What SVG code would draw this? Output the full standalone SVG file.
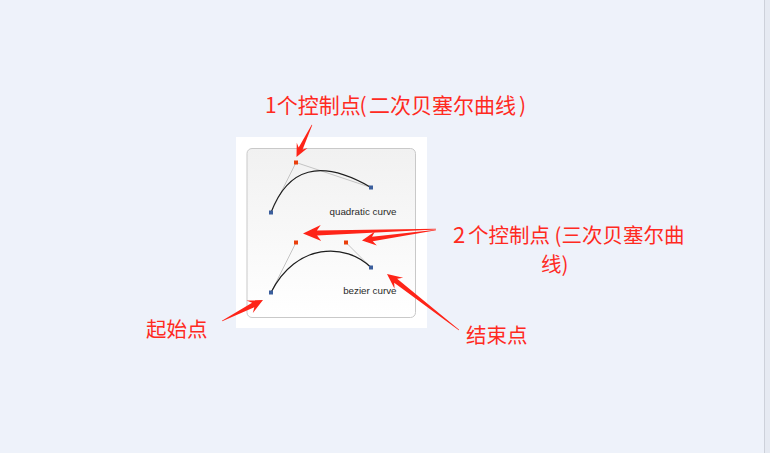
<svg xmlns="http://www.w3.org/2000/svg" width="770" height="453" viewBox="0 0 770 453">
<defs>
<linearGradient id="pg" x1="0" y1="0" x2="0" y2="1">
<stop offset="0" stop-color="#f1f1f1"/>
<stop offset="1" stop-color="#ffffff"/>
</linearGradient>
<style>
.lbl{font-family:"Noto Sans CJK SC","Noto Sans",sans-serif;fill:#ff2a1f;}
.cap{font-family:"Liberation Sans",Arial,sans-serif;font-size:9.8px;fill:#2a2a2a;text-anchor:end;}
.guide{stroke:#c4c4c4;stroke-width:1;fill:none;}
.curve{stroke:#1e1e1e;stroke-width:1.2;fill:none;}
.ep{fill:#3b5e9c;}
.cp{fill:#ea3f0c;}
.arr{fill:#fe2418;}
</style>
</defs>
<rect x="0" y="0" width="770" height="453" fill="#eef2fa"/>
<rect x="764" y="0" width="6" height="453" fill="#e6eaf2"/>
<line x1="764.5" y1="0" x2="764.5" y2="453" stroke="#cdd1da" stroke-width="1"/>

<g id="panel">
<rect x="236" y="137" width="191" height="191" fill="#ffffff"/>
<rect x="247" y="148.5" width="168.5" height="169" rx="5" fill="url(#pg)" stroke="#c9c9c9" stroke-width="1"/>
</g>

<g id="quadratic">
<polyline class="guide" points="271,212.5 296,162.5 371,187.5"/>
<path class="curve" d="M271,212.5 C288,168 320,158 371,187.5"/>
<rect class="ep" x="269" y="210.5" width="4" height="4"/>
<rect class="cp" x="294" y="160.5" width="4" height="4"/>
<rect class="ep" x="369" y="185.5" width="4" height="4"/>
<text class="cap" x="396.5" y="214.5">quadratic curve</text>
</g>

<g id="bezier">
<line class="guide" x1="271" y1="292.5" x2="296" y2="242.5"/>
<line class="guide" x1="346" y1="242.5" x2="371" y2="267.5"/>
<path class="curve" d="M271,292.5 C296,242.5 346,242.5 371,267.5"/>
<rect class="ep" x="269" y="290.5" width="4" height="4"/>
<rect class="cp" x="294" y="240.5" width="4" height="4"/>
<rect class="cp" x="344" y="240.5" width="4" height="4"/>
<rect class="ep" x="369" y="265.5" width="4" height="4"/>
<text class="cap" x="396.5" y="294">bezier curve</text>
</g>

<g id="connectors">
<polygon class="arr" transform="translate(296.5,157) rotate(115.8)" points="0,0 -13,-6 -9.5,-2.2 -35.6,-0.3 -35.6,0.3 -9.5,2.2 -13,6"/>
<polygon class="arr" transform="translate(303,233.5) rotate(178.1)" points="0,0 -18,-8 -14,-2.5 -133,-0.3 -133,0.3 -14,2.5 -18,8"/>
<polygon class="arr" transform="translate(362,240.5) rotate(171.9)" points="0,0 -14,-7 -10.5,-2.3 -74.7,-0.3 -74.7,0.3 -10.5,2.3 -14,7"/>
<polygon class="arr" transform="translate(263,300) rotate(-27.1)" points="0,0 -15,-7 -11,-2.4 -46,-0.3 -46,0.3 -11,2.4 -15,7"/>
<polygon class="arr" transform="translate(387,274) rotate(-142.1)" points="0,0 -15,-7 -11,-2.4 -91.2,-0.3 -91.2,0.3 -11,2.4 -15,7"/>
</g>

<g id="labels">
<text class="lbl" font-size="21" x="265" y="113">1个控制点<tspan x="359.5">(</tspan><tspan x="369">二次贝塞尔曲线</tspan><tspan x="519">)</tspan></text>
<text class="lbl" font-size="20.5" x="453" y="243"><tspan font-size="22">2</tspan><tspan x="468">个控制点 (三次贝塞尔曲</tspan></text>
<text class="lbl" font-size="20.5" x="541" y="272">线)</text>
<text class="lbl" font-size="20.5" x="146" y="337">起始点</text>
<text class="lbl" font-size="20.5" x="466" y="343">结束点</text>
</g>
</svg>
